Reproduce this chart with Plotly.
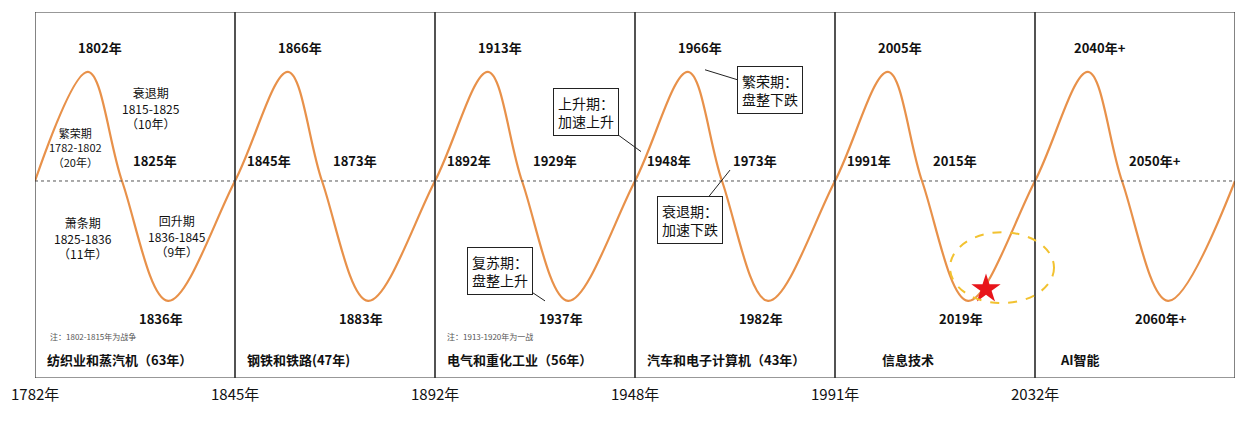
import plotly.graph_objects as go

# data
boundary_years = ["1782年", "1845年", "1892年", "1948年", "1991年", "2032年"]
panel_titles = ["纺织业和蒸汽机（63年）", "钢铁和铁路(47年)", "电气和重化工业（56年）", "汽车和电子计算机（43年）", "信息技术", "AI智能"]
peak_years = ["1802年", "1866年", "1913年", "1966年", "2005年", "2040年+"]
mid_years = ["1825年", "1873年", "1929年", "1973年", "2015年", "2050年+"]
trough_years = ["1836年", "1883年", "1937年", "1982年", "2019年", "2060年+"]
start_years = ["", "1845年", "1892年", "1948年", "1991年", ""]
cycle_phase = [0.0, 0.265, 0.435, 0.665, 1.0]
cycle_level = [0.0, 1.0, 0.0, -1.1, 0.0]

xs, ys = [], []
for i in range(6):
    for j, (p, v) in enumerate(zip(cycle_phase, cycle_level)):
        if i > 0 and j == 0:
            continue
        xs.append(i + p); ys.append(v)

F = "Microsoft YaHei, Noto Sans CJK SC, sans-serif"
fig = go.Figure()
fig.add_trace(go.Scatter(x=xs, y=ys, mode="lines", line=dict(color="#E8914A", width=2.2, shape="spline", smoothing=1.0), hoverinfo="skip"))

shapes = [dict(type="line", x0=0, x1=6, y0=0, y1=0, line=dict(color="#555", width=1, dash="dot"))]
for i in range(6):
    shapes.append(dict(type="rect", x0=i, x1=i + 1, y0=-1.807, y1=1.55, line=dict(color="#333", width=1.2)))
shapes.append(dict(type="circle", x0=4.575, x1=5.095, y0=-1.12, y1=-0.47, line=dict(color="#F2C230", width=2, dash="dash")))

ann = []
def T(x, y, t, size=13, bold=True, xanchor="center", color="#111"):
    ann.append(dict(x=x, y=y, text=f"<b>{t}</b>" if bold else t, showarrow=False, xanchor=xanchor, font=dict(family=F, size=size, color=color)))

for i in range(6):
    T(i + 0.325, 1.22, peak_years[i])
    T(i + 0.6, 0.19, mid_years[i])
    T(i + 0.63, -1.26, trough_years[i])
    if start_years[i]:
        T(i + 0.17, 0.19, start_years[i])
    T(i + (0.225 if i == 4 else 0.05 if i < 5 else 0.115), -1.64, panel_titles[i], size=13, xanchor="left")
for i, y in enumerate(boundary_years):
    ann.append(dict(x=i, y=0, yref="paper", yshift=-28, text=y, showarrow=False, font=dict(family=F, size=15, color="#111")))

T(0.065, -1.43, "注：1802-1815年为战争", size=8, bold=False, xanchor="left", color="#555")
T(2.05, -1.43, "注：1913-1920年为一战", size=8, bold=False, xanchor="left", color="#555")
T(0.2, 0.31, "繁荣期<br>1782-1802<br>（20年）", size=11, bold=False)
T(0.58, 0.67, "衰退期<br>1815-1825<br>（10年）", size=12, bold=False)
T(0.24, -0.52, "萧条期<br>1825-1836<br>（11年）", size=12, bold=False)
T(0.71, -0.5, "回升期<br>1836-1845<br>（9年）", size=12, bold=False)

def callout(x, y, ax, ay, t):
    ann.append(dict(x=x, y=y, ax=ax, ay=ay, text=t, showarrow=True, arrowhead=0, arrowwidth=1, arrowcolor="#222",
                    bordercolor="#222", borderwidth=1, borderpad=4, bgcolor="white", font=dict(family=F, size=14, color="#111")))
callout(3.03, 0.27, -55, -40, "上升期：<br>加速上升")
callout(3.35, 1.02, 65, 20, "繁荣期：<br>盘整下跌")
callout(3.475, 0.1, -40, 50, "衰退期：<br>加速下跌")
callout(2.55, -1.1, -45, -30, "复苏期：<br>盘整上升")

fig.add_trace(go.Scatter(x=[4.755], y=[-0.99], mode="markers", marker=dict(symbol="star", size=22, color="#E8151B"), hoverinfo="skip"))

fig.update_layout(width=1247, height=435, margin=dict(l=27, r=20, t=4, b=65), plot_bgcolor="white", paper_bgcolor="white",
                  showlegend=False, shapes=shapes, annotations=ann,
                  xaxis=dict(range=[0, 6], visible=False), yaxis=dict(range=[-1.807, 1.55], visible=False))
fig.write_html("out.html")
